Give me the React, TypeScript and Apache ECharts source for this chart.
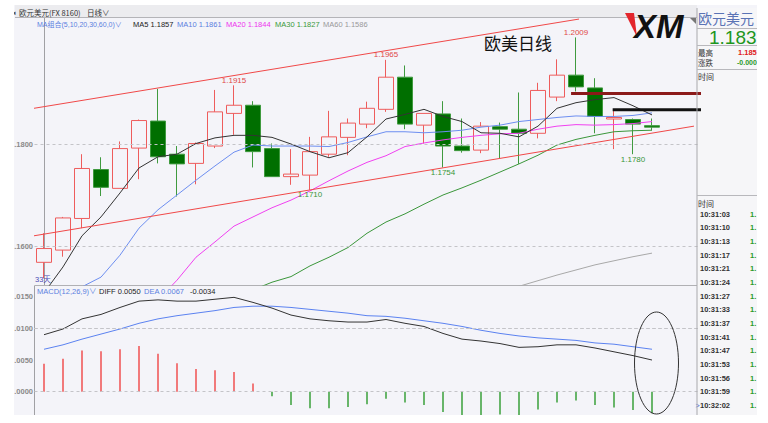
import React, { useEffect, useRef } from 'react';
import * as echarts from 'echarts';

// ---------- data ----------
const categories = ['1','2','3','4','5','6','7','8','9','10','11','12','13','14','15','16','17','18','19','20','21','22','23','24','25','26','27','28','29','30','31','32','33','34','35'];

// [open, close, low, high]
const candles: number[][] = [
  [1.1568, 1.1595, 1.1537, 1.1625],
  [1.1592, 1.1655, 1.1579, 1.1657],
  [1.1654, 1.1752, 1.1635, 1.1780],
  [1.1750, 1.1715, 1.1698, 1.1774],
  [1.1713, 1.1791, 1.1713, 1.1805],
  [1.1792, 1.1846, 1.1731, 1.1848],
  [1.1845, 1.1775, 1.1762, 1.1908],
  [1.1780, 1.1761, 1.1697, 1.1796],
  [1.1762, 1.1801, 1.1721, 1.1803],
  [1.1796, 1.1863, 1.1792, 1.1906],
  [1.1860, 1.1876, 1.1818, 1.1915],
  [1.1876, 1.1785, 1.1754, 1.1884],
  [1.1791, 1.1736, 1.1736, 1.1801],
  [1.1736, 1.1741, 1.1720, 1.1790],
  [1.1739, 1.1785, 1.1710, 1.1814],
  [1.1780, 1.1814, 1.1775, 1.1865],
  [1.1813, 1.1841, 1.1778, 1.1850],
  [1.1839, 1.1870, 1.1831, 1.1883],
  [1.1868, 1.1931, 1.1863, 1.1965],
  [1.1931, 1.1839, 1.1829, 1.1954],
  [1.1837, 1.1860, 1.1801, 1.1860],
  [1.1859, 1.1796, 1.1754, 1.1884],
  [1.1796, 1.1787, 1.1783, 1.1850],
  [1.1788, 1.1835, 1.1782, 1.1843],
  [1.1834, 1.1829, 1.1772, 1.1842],
  [1.1829, 1.1821, 1.1761, 1.1901],
  [1.1821, 1.1905, 1.1811, 1.1920],
  [1.1892, 1.1935, 1.1884, 1.1966],
  [1.1935, 1.1912, 1.1903, 1.2009],
  [1.1910, 1.1854, 1.1821, 1.1929],
  [1.1849, 1.1852, 1.1790, 1.1868],
  [1.1848, 1.1839, 1.1780, 1.1850],
  [1.1836, 1.1833, 1.1827, 1.1850],
];

const ma5 = [1.1508, 1.1559, 1.1620, 1.1657, 1.1704, 1.1753, 1.1775, 1.1780, 1.1801, 1.1812, 1.1817, 1.1817, 1.1813, 1.1800, 1.1785, 1.1773, 1.1783, 1.1814, 1.1849, 1.1858, 1.1868, 1.1854, 1.1844, 1.1822, 1.1821, 1.1814, 1.1835, 1.1870, 1.1881, 1.1887, 1.1891, 1.1875, 1.1857];
const ma10 = [null, 1.1490, 1.1520, 1.1539, 1.1582, 1.1635, 1.1671, 1.1700, 1.1729, 1.1757, 1.1784, 1.1798, 1.1796, 1.1796, 1.1796, 1.1795, 1.1803, 1.1814, 1.1824, 1.1824, 1.1822, 1.1824, 1.1827, 1.1833, 1.1837, 1.1844, 1.1848, 1.1852, 1.1855, 1.1854, 1.1854, 1.1856, 1.1861];
const ma20 = [null, null, null, null, null, null, 1.1494, 1.1533, 1.1578, 1.1608, 1.1639, 1.1657, 1.1675, 1.1690, 1.1708, 1.1728, 1.1747, 1.1764, 1.1777, 1.1795, 1.1802, 1.1808, 1.1813, 1.1817, 1.1820, 1.1821, 1.1829, 1.1835, 1.1838, 1.1837, 1.1838, 1.1840, 1.1844];
const ma30 = [null, null, null, null, null, null, null, null, null, null, null, 1.1514, 1.1529, 1.1540, 1.1561, 1.1578, 1.1597, 1.1625, 1.1647, 1.1663, 1.1682, 1.1700, 1.1714, 1.1729, 1.1745, 1.1761, 1.1778, 1.1798, 1.1809, 1.1817, 1.1824, 1.1826, 1.1827];
const ma60 = [null, null, null, null, null, null, null, null, null, null, null, null, null, null, null, null, null, null, null, null, null, null, null, null, 1.1510, 1.1521, 1.1532, 1.1543, 1.1553, 1.1563, 1.1571, 1.1579, 1.1586];

const diff = [0.0090, 0.0099, 0.0115, 0.0122, 0.0133, 0.0143, 0.0145, 0.0143, 0.0143, 0.0146, 0.0149, 0.0141, 0.0132, 0.0121, 0.0115, 0.0112, 0.0110, 0.0110, 0.0114, 0.0108, 0.0103, 0.0092, 0.0083, 0.0080, 0.0076, 0.0070, 0.0071, 0.0074, 0.0074, 0.0069, 0.0063, 0.0057, 0.0050];
const dea = [0.0067, 0.0074, 0.0083, 0.0091, 0.0099, 0.0108, 0.0115, 0.0120, 0.0124, 0.0128, 0.0133, 0.0135, 0.0135, 0.0133, 0.0130, 0.0127, 0.0124, 0.0120, 0.0119, 0.0116, 0.0112, 0.0108, 0.0103, 0.0097, 0.0092, 0.0088, 0.0085, 0.0083, 0.0081, 0.0077, 0.0075, 0.0071, 0.0067];
const macdHist = [0.0044, 0.0052, 0.0065, 0.0064, 0.0067, 0.0072, 0.0060, 0.0045, 0.0036, 0.0034, 0.0031, 0.0013, -0.0007, -0.0021, -0.0026, -0.0026, -0.0024, -0.0020, -0.0011, -0.0017, -0.0021, -0.0032, -0.0037, -0.0037, -0.0036, -0.0037, -0.0028, -0.0017, -0.0014, -0.0021, -0.0025, -0.0029, -0.0034];

const priceTicks = [1.16, 1.18];
const macdTicks = [0, 0.005, 0.01, 0.015];

const highLowMarks = [
  { index: 10, value: 1.1915, kind: 'high' },
  { index: 18, value: 1.1965, kind: 'high' },
  { index: 28, value: 1.2009, kind: 'high' },
  { index: 14, value: 1.1710, kind: 'low' },
  { index: 21, value: 1.1754, kind: 'low' },
  { index: 31, value: 1.1780, kind: 'low' },
];

// drawn annotations, in [bar position, price]
const upperTrend = [[-0.53, 1.1870], [28.16, 1.2045]];
const lowerTrend = [[-0.53, 1.1620], [34.21, 1.1835]];
const resistanceLine = [[27.74, 1.1899], [35.26, 1.1899]];
const supportLine = [[29.93, 1.1867], [34.89, 1.1867]];

const quotePrice = '1.183';
const quoteHigh = '1.185';
const quoteChange = '-0.000';
const tickPrice = '1.';
const tradeTimes = ['10:31:03', '10:31:10', '10:31:13', '10:31:17', '10:31:21', '10:31:24', '10:31:27', '10:31:33', '10:31:37', '10:31:41', '10:31:47', '10:31:53', '10:31:56', '10:31:59', '10:32:02'];

// ---------- layout ----------
const UI = '"Liberation Sans", "Noto Sans CJK SC", sans-serif';
const CJK = '"Noto Sans CJK SC", sans-serif';
const PRICE_MAX = 1.18 + 127 / 5100;
const PRICE_MIN = 1.18 - 141 / 5100;
const MACD_MAX = 0.01669;
const MACD_MIN = -0.00368;

const last = (a: (number | null)[]) => a[a.length - 1] as number;

function txt(text: string, x: number, y: number, fill: string, fontSize: number, extra: any = {}) {
  return {
    type: 'text', x, y, z: 30,
    style: { text, fill, fontSize, fontFamily: UI, verticalAlign: 'middle', textVerticalAlign: 'middle', ...extra },
  };
}
function hline(x1: number, x2: number, y: number, stroke: string, z = 31) {
  return { type: 'line', z, shape: { x1, y1: y, x2, y2: y }, style: { stroke, lineWidth: 1 } };
}

export default function App() {
  const ref = useRef<HTMLDivElement>(null);
  useEffect(() => {
    if (!ref.current) return;
    const chart = echarts.init(ref.current, null, { renderer: 'svg' });

    const lineSeries = (data: any[], color: string, xi = 0, yi = 0) => ({
      type: 'line', data, xAxisIndex: xi, yAxisIndex: yi, symbol: 'none', showSymbol: false,
      lineStyle: { color, width: 1 }, itemStyle: { color }, silent: true, clip: true, z: 3,
    });

    const graphic: any[] = [
      // toolbar
      { type: 'rect', z: -1, shape: { x: 15, y: 5, width: 682, height: 12 }, style: { fill: '#ececef' } },
      hline(15, 697, 17.5, '#b4b4b8', 1),
      txt('◂', 12, 12, '#555', 7),
      txt('欧元美元(FX 8160)', 19, 12, '#333', 7.5, { fontFamily: CJK }),
      txt('日线∨', 87, 12, '#333', 7.5, { fontFamily: CJK }),
      // panel separator
      hline(34.5, 697, 285.5, '#b0b0b4', 1),
      // MA legend
      txt('MA组合(5,10,20,30,60,0)∨', 37, 24, '#5b7fe0', 7),
      txt('MA5 ' + last(ma5).toFixed(4), 133, 24, '#222', 7.5),
      txt('MA10 ' + last(ma10).toFixed(4), 177, 24, '#5b7fe0', 7.5),
      txt('MA20 ' + last(ma20).toFixed(4), 226, 24, '#ee33ee', 7.5),
      txt('MA30 ' + last(ma30).toFixed(4), 275, 24, '#3a9a3a', 7.5),
      txt('MA60 ' + last(ma60).toFixed(4), 323, 24, '#999', 7.5),
      // MACD legend
      txt('MACD(12,26,9)∨', 37, 291, '#5b7fe0', 7.5),
      txt('DIFF ' + last(diff).toFixed(4), 99, 291, '#222', 7.5),
      txt('DEA ' + last(dea).toFixed(4), 144, 291, '#5b7fe0', 7.5),
      txt(last(macdHist).toFixed(4), 190, 291, '#222', 7.5),
      txt(candles.length + '天', 35, 279.5, '#4b4bb4', 7.5),
      // title
      txt('欧美日线', 484, 42, '#111', 17, { fontFamily: CJK }),
      // XM logo
      { type: 'polygon', z: 30, shape: { points: [[625, 13], [634, 13], [637, 37]] }, style: { fill: '#e3262c' } },
      txt('XM', 634, 26, '#111', 33, { fontWeight: 900, fontStyle: 'italic' }),
      { type: 'polygon', z: 30, shape: { points: [[690, 18], [696, 18], [696, 24]] }, style: { fill: '#777' } },
      // ellipse annotation
      { type: 'ellipse', z: 30, shape: { cx: 656.5, cy: 363, rx: 22, ry: 51 }, style: { fill: 'none', stroke: '#333', lineWidth: 1 } },
      // right panel
      { type: 'rect', z: 5, shape: { x: 697, y: 8, width: 60, height: 407 }, style: { fill: '#f6f6f8' } },
      { type: 'line', z: 31, shape: { x1: 697, y1: 8, x2: 697, y2: 415 }, style: { stroke: '#a8a8ac', lineWidth: 1 } },
      hline(697, 757, 28.5, '#b8b8bc'),
      hline(697, 757, 45.5, '#b8b8bc'),
      hline(697, 757, 69.5, '#b8b8bc'),
      hline(697, 757, 195.5, '#b8b8bc'),
      txt('欧元美元', 698, 18, '#5a73b5', 14, { fontFamily: CJK }),
      txt(quotePrice, 709, 37, '#1e961e', 19),
      txt('最高', 698, 52, '#333', 7.5, { fontFamily: CJK }),
      txt(quoteHigh, 738, 52, '#e02020', 7.5, { fontWeight: 'bold' }),
      txt('涨跌', 698, 62.5, '#333', 7.5, { fontFamily: CJK }),
      txt(quoteChange, 737, 62.5, '#2a9a2a', 7, { fontWeight: 'bold' }),
      txt('时间', 698, 76, '#333', 8, { fontFamily: CJK }),
      txt('时间', 698, 203, '#333', 8, { fontFamily: CJK }),
      ...tradeTimes.map((t, k) => txt(t, 700, 214.3 + k * 13.65, '#333', 7.5, { fontWeight: 'bold' })),
      ...tradeTimes.map((t, k) => txt(tickPrice, 750, 214.3 + k * 13.65, '#2a9a2a', 7.5, { fontWeight: 'bold' })),
      txt('>', 695.5, 214.3 + (tradeTimes.length - 1) * 13.65, '#3355cc', 7),
      // crop margins (white)
      { type: 'rect', z: 40, shape: { x: 0, y: 0, width: 768, height: 5 }, style: { fill: '#ffffff' } },
      { type: 'rect', z: 40, shape: { x: 757, y: 0, width: 11, height: 423 }, style: { fill: '#ffffff' } },
      { type: 'rect', z: 40, shape: { x: 0, y: 415, width: 768, height: 8 }, style: { fill: '#ffffff' } },
      { type: 'rect', z: 40, shape: { x: 0, y: 0, width: 14, height: 423 }, style: { fill: '#ffffff' } },
    ];

    const option: any = {
      animation: false,
      backgroundColor: '#f4f4f9',
      grid: [
        { left: 34.5, top: 17, width: 665, height: 268 },
        { left: 34.5, top: 286, width: 665, height: 129 },
      ],
      xAxis: [
        { type: 'category', gridIndex: 0, data: categories, boundaryGap: true, show: false },
        { type: 'category', gridIndex: 1, data: categories, boundaryGap: true, show: false },
        { type: 'value', gridIndex: 0, min: -0.5, max: categories.length - 0.5, show: false },
      ],
      yAxis: [
        {
          type: 'value', gridIndex: 0, min: PRICE_MIN, max: PRICE_MAX,
          axisLine: { show: true, lineStyle: { color: '#a0a0a4' } },
          axisTick: { show: false }, splitLine: { show: false },
          axisLabel: {
            customValues: priceTicks, margin: 1.5, color: '#8a8a8a', fontSize: 7.5, fontWeight: 'bold', fontFamily: UI,
            formatter: (v: number) => '.' + v.toFixed(4).split('.')[1],
          },
        },
        {
          type: 'value', gridIndex: 1, min: MACD_MIN, max: MACD_MAX,
          axisLine: { show: true, lineStyle: { color: '#a0a0a4' } },
          axisTick: { show: false }, splitLine: { show: false },
          axisLabel: {
            customValues: macdTicks, margin: 1.5, color: '#8a8a8a', fontSize: 7.5, fontWeight: 'bold', fontFamily: UI,
            formatter: (v: number) => '.' + Math.abs(v).toFixed(4).split('.')[1],
          },
        },
      ],
      graphic,
      series: [
        {
          type: 'candlestick', xAxisIndex: 0, yAxisIndex: 0, data: candles, barWidth: 16, silent: true,
          itemStyle: { color: '#f4f4f9', color0: '#006f00', borderColor: '#ee5c5c', borderColor0: '#3f9a3f', borderWidth: 1 },
          markLine: {
            silent: true, symbol: ['none', 'none'], label: { show: false },
            lineStyle: { color: '#c4c4c8', type: [3, 3], width: 1 },
            data: priceTicks.map((v) => ({ yAxis: v })),
          },
          markPoint: {
            silent: true,
            data: highLowMarks.map((m) => ({
              coord: [m.index, m.value], value: m.value.toFixed(4), symbol: 'circle', symbolSize: 0,
              label: {
                show: true, position: m.kind === 'high' ? 'top' : 'bottom', distance: 1,
                color: m.kind === 'high' ? '#e04848' : '#3a963a', fontSize: 8, fontFamily: UI,
              },
            })),
          },
        },
        lineSeries(ma60, '#a8a8a8'),
        lineSeries(ma30, '#3a963a'),
        lineSeries(ma20, '#f040f0'),
        lineSeries(ma10, '#6d8ef0'),
        lineSeries(ma5, '#333333'),
        { ...lineSeries(upperTrend, '#f04848', 2, 0) },
        { ...lineSeries(lowerTrend, '#f04848', 2, 0) },
        { ...lineSeries(resistanceLine, '#8b1a1a', 2, 0), lineStyle: { color: '#8b1a1a', width: 3 }, clip: false, z: 10 },
        { ...lineSeries(supportLine, '#111111', 2, 0), lineStyle: { color: '#111111', width: 3 }, clip: false, z: 10 },
        {
          type: 'bar', xAxisIndex: 1, yAxisIndex: 1, data: macdHist, barWidth: 1.5, silent: true,
          itemStyle: { color: (p: any) => (p.value >= 0 ? '#f05050' : '#3aa03a') },
          markLine: {
            silent: true, symbol: ['none', 'none'], label: { show: false },
            lineStyle: { color: '#c4c4c8', type: [3, 3], width: 1 },
            data: macdTicks.map((v) => ({ yAxis: v })),
          },
        },
        lineSeries(dea, '#5b82f0', 1, 1),
        lineSeries(diff, '#333333', 1, 1),
      ],
    };
    chart.setOption(option);
    return () => chart.dispose();
  }, []);
  return <div ref={ref} style={{ position: 'fixed', left: 0, top: 0, width: 768, height: 423 }} />;
}
